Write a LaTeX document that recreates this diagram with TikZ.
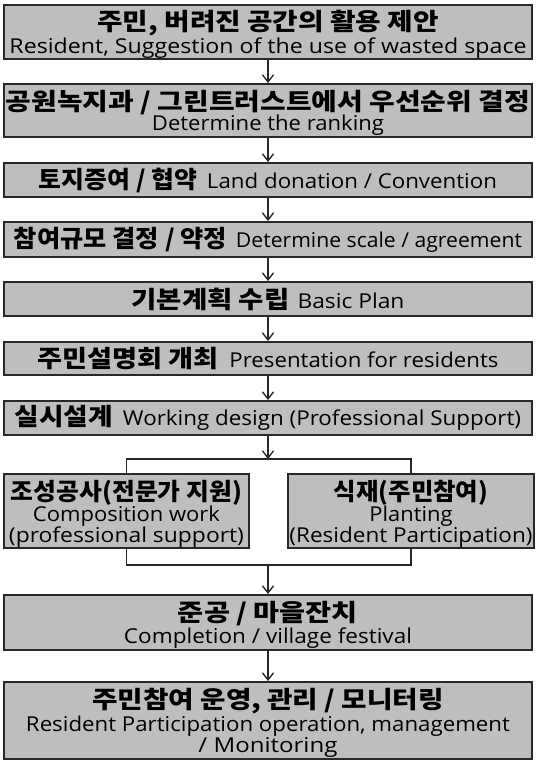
\documentclass[tikz,border=0pt]{standalone}
\usepackage{graphicx}
\usepackage{fontspec}
\setmainfont{Open Sans}[FakeStretch=1.1]
\newfontfamily\korfont{Noto Sans CJK KR}[FakeStretch=1.14]
\usetikzlibrary{arrows.meta}
\definecolor{boxgray}{RGB}{190,190,190}
\definecolor{edgecol}{RGB}{40,40,40}
% Korean line fitted to a width, English line fitted to a width
\newcommand{\kr}[2]{\resizebox{#1pt}{\height}{\korfont\bfseries\fontsize{24}{24}\selectfont #2}}
\newcommand{\krtop}[2]{\raisebox{0pt}[20pt][\depth]{\kr{#1}{#2}}}
\newcommand{\en}[2]{\resizebox{#1pt}{\height}{\fontsize{20.5}{20.5}\selectfont #2}}
\newcommand{\enlast}[2]{\raisebox{0pt}[\height][0pt]{\en{#1}{#2}}}
\tikzset{
  stepbox/.style={draw=edgecol, line width=2pt, fill=boxgray, inner sep=0pt,
    align=center, minimum width=528pt, text=black,
    execute at begin node={\setlength{\baselineskip}{20pt}}},
  threeline/.style={execute at begin node={\setlength{\baselineskip}{21pt}}},
  subbox/.style={stepbox, threeline, minimum width=245pt, minimum height=74pt},
  link/.style={draw=edgecol, line width=1.4pt},
  arr/.style={link, -{Straight Barb[length=7pt,width=11pt,line width=1.4pt]}}
}
\begin{document}
\begin{tikzpicture}[x=1pt,y=-1pt]
\useasboundingbox (0,0) rectangle (537,764);
\node[stepbox, minimum height=54pt] (b1) at (268,32) {\krtop{341}{주민, 버려진 공간의 활용 제안}\\\enlast{517}{Resident, Suggestion of the use of wasted space}};
\node[stepbox, minimum height=53pt] (b2) at (268,110.5) {\krtop{524}{공원녹지과 / 그린트러스트에서 우선순위 결정}\\\enlast{232}{Determine the ranking}};
\node[stepbox, minimum height=34pt] (b3) at (268,180) {\kr{158}{토지증여 / 협약}\hspace{10pt}\en{290}{Land donation / Convention}};
\node[stepbox, minimum height=35pt] (b4) at (268,239.5) {\kr{213}{참여규모 결정 / 약정}\hspace{9pt}\en{286}{Determine scale / agreement}};
\node[stepbox, minimum height=34pt] (b5) at (268,299) {\kr{158}{기본계획 수립}\hspace{8pt}\en{107}{Basic Plan}};
\node[stepbox, minimum height=33pt] (b6) at (268,358.5) {\kr{181}{주민설명회 개최}\hspace{11pt}\en{269}{Presentation for residents}};
\node[stepbox, minimum height=34pt] (b7) at (268,418) {\kr{98}{실시설계}\hspace{10pt}\en{398}{Working design (Professional Support)}};
\node[subbox] (l) at (126.5,511) {\krtop{231}{조성공사(전문가 지원)}\\\en{187}{Composition work}\\\enlast{235}{(professional support)}};
\node[subbox, minimum width=246pt] (r) at (411,511) {\krtop{154}{식재(주민참여)}\\\en{83}{Planting}\\\enlast{243}{(Resident Participation)}};
\node[stepbox, minimum height=55pt] (b8) at (268,622.5) {\krtop{180}{준공 / 마을잔치}\\\enlast{288}{Completion / village festival}};
\node[stepbox, threeline, minimum height=77pt] (b9) at (268,720.5) {\krtop{351}{주민참여 운영, 관리 / 모니터링}\\\en{484}{Resident Participation operation, management}\\\enlast{139}{/ Monitoring}};
\coordinate (s) at (268,459);
\coordinate (j) at (268,565);
\draw[arr] (b1) -- (b2);
\draw[arr] (b2) -- (b3);
\draw[arr] (b3) -- (b4);
\draw[arr] (b4) -- (b5);
\draw[arr] (b5) -- (b6);
\draw[arr] (b6) -- (b7);
\draw[arr] (b7) -- (s);
\draw[link] (l.north) |- (s) -| (r.north);
\draw[link] (l.south) |- (j) -| (r.south);
\draw[arr] (j) -- (b8);
\draw[arr] (b8) -- (b9);
\end{tikzpicture}
\end{document}
